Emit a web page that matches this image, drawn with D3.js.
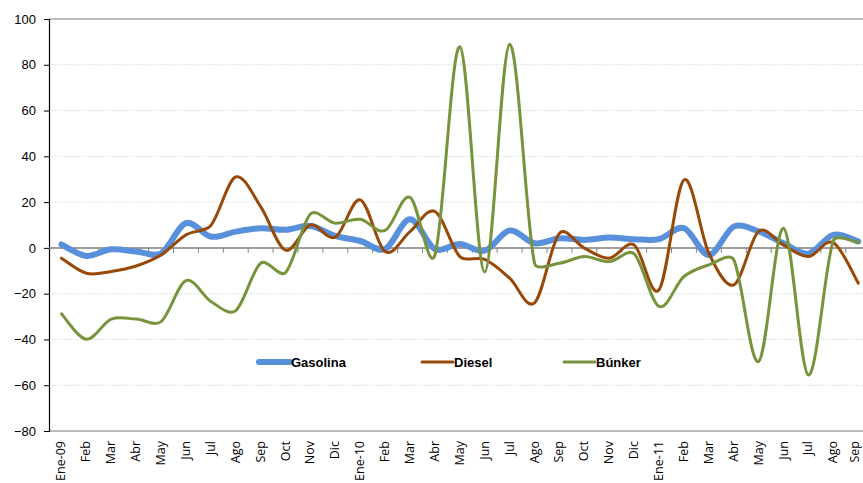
<!DOCTYPE html>
<html>
<head>
<meta charset="utf-8">
<script src="https://cdn.jsdelivr.net/npm/d3@7"></script>
<style>
  html, body { margin: 0; padding: 0; background: #ffffff; }
  svg { display: block; }
</style>
</head>
<body>
<svg id="chart" width="863" height="483"></svg>
<script>
const categories = ["Ene-09","Feb","Mar","Abr","May","Jun","Jul","Ago","Sep","Oct","Nov","Dic",
  "Ene-10","Feb","Mar","Abr","May","Jun","Jul","Ago","Sep","Oct","Nov","Dic",
  "Ene-11","Feb","Mar","Abr","May","Jun","Jul","Ago","Sep"];

const gasolina = [1.5,-3.5,-0.6,-1.6,-2.4,10.8,4.9,7.1,8.6,7.9,9.6,5.2,
  3.0,-0.5,12.5,-0.5,1.7,-1.2,7.6,2.0,4.2,3.5,4.5,3.8,
  3.8,8.6,-3.1,9.3,7.2,2.0,-2.5,5.7,2.8];

const diesel = [-4.5,-11.1,-10.3,-7.9,-3.1,5.7,9.8,31.0,18.0,-1.0,10.0,4.7,
  21.0,-1.6,7.1,15.9,-3.8,-5.0,-13.2,-24.0,6.4,-0.1,-4.5,1.3,
  -18.3,29.7,-2.3,-16.2,7.2,1.3,-3.8,2.3,-15.4];

const bunker = [-28.8,-39.9,-31.1,-31.1,-32.2,-14.3,-23.4,-27.4,-6.7,-10.8,14.8,10.8,
  12.5,7.6,22.1,-3.1,87.9,-10.5,89.0,-6.7,-6.7,-3.8,-6.0,-2.6,
  -25.6,-12.5,-7.4,-5.2,-49.6,8.6,-55.5,3.2,2.3];

const yTicks = [100,80,60,40,20,0,-20,-40,-60,-80];

const seriesNames = ["Gasolina","Diesel","Búnker"];
const seriesData = [gasolina, diesel, bunker];
const seriesColors = ["#5890db","#984807","#77933c"];
const seriesWidths = [6, 3, 3];

const svg = d3.select("#chart");
const mLeft = 49, mTop = 19, mBottom = 431;
const band = 24.9;
const mRight = mLeft + band * categories.length;

const x = d3.scaleBand().domain(d3.range(categories.length)).range([mLeft, mRight]).padding(0);
const y = d3.scaleLinear().domain([-80, 100]).range([mBottom, mTop]);
const cx = i => x(i) + x.bandwidth() / 2;

// Excel-like smoothed line: Catmull-Rom tangents with handles limited to 1/3 of segment length
function smoothPath(values) {
  const p = values.map((v, i) => [cx(i), y(v)]);
  const n = p.length;
  const tan = p.map((pt, i) => {
    const a = p[Math.max(0, i - 1)], b = p[Math.min(n - 1, i + 1)];
    return [(b[0] - a[0]) / 6, (b[1] - a[1]) / 6];
  });
  const limit = (v, maxLen) => {
    const L = Math.hypot(v[0], v[1]);
    if (L <= maxLen || L === 0) return v;
    return [v[0] * maxLen / L, v[1] * maxLen / L];
  };
  const path = d3.path();
  path.moveTo(p[0][0], p[0][1]);
  for (let i = 0; i < n - 1; i++) {
    const seg = Math.hypot(p[i + 1][0] - p[i][0], p[i + 1][1] - p[i][1]);
    const h1 = limit(tan[i], seg / 3);
    const h2 = limit(tan[i + 1], seg / 3);
    path.bezierCurveTo(p[i][0] + h1[0], p[i][1] + h1[1],
                       p[i + 1][0] - h2[0], p[i + 1][1] - h2[1],
                       p[i + 1][0], p[i + 1][1]);
  }
  return path.toString();
}

// gridlines (dotted)
svg.append("g").selectAll("line")
  .data(yTicks.filter(v => v !== 0 && v !== 100 && v !== -80))
  .join("line")
  .attr("x1", mLeft).attr("x2", 863)
  .attr("y1", d => y(d)).attr("y2", d => y(d))
  .attr("stroke", "#d9d9d9").attr("stroke-width", 1)
  .attr("stroke-dasharray", "1.5,1.5");

// top and bottom border
[100, -80].forEach(v => {
  svg.append("line")
    .attr("x1", mLeft).attr("x2", 863)
    .attr("y1", y(v)).attr("y2", y(v))
    .attr("stroke", "#a6a6a6").attr("stroke-width", 1.3);
});

// Y axis
const yAxis = d3.axisLeft(y).tickValues(yTicks).tickSize(5).tickPadding(8);
const yg = svg.append("g").attr("transform", `translate(${mLeft},0)`).call(yAxis);
yg.select(".domain").attr("stroke", "#000").attr("stroke-width", 1.2);
yg.selectAll(".tick line").attr("stroke", "#000");
yg.selectAll("text").attr("font-family", "'Liberation Sans', Arial, sans-serif")
  .attr("font-size", 13).attr("fill", "#000");

// zero line with category boundary ticks
svg.append("line")
  .attr("x1", mLeft).attr("x2", 863)
  .attr("y1", y(0)).attr("y2", y(0))
  .attr("stroke", "#7f7f7f").attr("stroke-width", 1.5);
svg.append("g").selectAll("line")
  .data(d3.range(1, categories.length + 1))
  .join("line")
  .attr("x1", d => mLeft + d * x.bandwidth()).attr("x2", d => mLeft + d * x.bandwidth())
  .attr("y1", y(0)).attr("y2", y(0) + 5)
  .attr("stroke", "#7f7f7f").attr("stroke-width", 1);

// X labels
svg.append("g").selectAll("text")
  .data(categories)
  .join("text")
  .attr("transform", (d, i) => `translate(${Math.min(cx(i), 855)},441) rotate(-90)`)
  .attr("text-anchor", "end")
  .attr("dy", "0.32em")
  .attr("font-family", "'Open Sans', 'Liberation Sans', sans-serif")
  .attr("font-size", 12.5)
  .attr("fill", "#000")
  .text(d => d);

// Lines
seriesData.forEach((data, k) => {
  svg.append("path")
    .attr("d", smoothPath(data))
    .attr("fill", "none")
    .attr("stroke", seriesColors[k])
    .attr("stroke-width", seriesWidths[k])
    .attr("stroke-linecap", "round")
    .attr("stroke-linejoin", "round");
});

// Legend
const legendX = [259, 422, 564];
const legendY = 362;
seriesNames.forEach((name, k) => {
  const g = svg.append("g");
  g.append("line")
    .attr("x1", legendX[k]).attr("x2", legendX[k] + 31)
    .attr("y1", legendY).attr("y2", legendY)
    .attr("stroke", seriesColors[k])
    .attr("stroke-width", seriesWidths[k])
    .attr("stroke-linecap", "round");
  g.append("text")
    .attr("x", legendX[k] + 32)
    .attr("y", legendY)
    .attr("dy", "0.35em")
    .attr("font-family", "'Liberation Sans', Arial, sans-serif")
    .attr("font-weight", "bold")
    .attr("font-size", 13)
    .attr("fill", "#000")
    .text(name);
});
</script>
</body>
</html>
